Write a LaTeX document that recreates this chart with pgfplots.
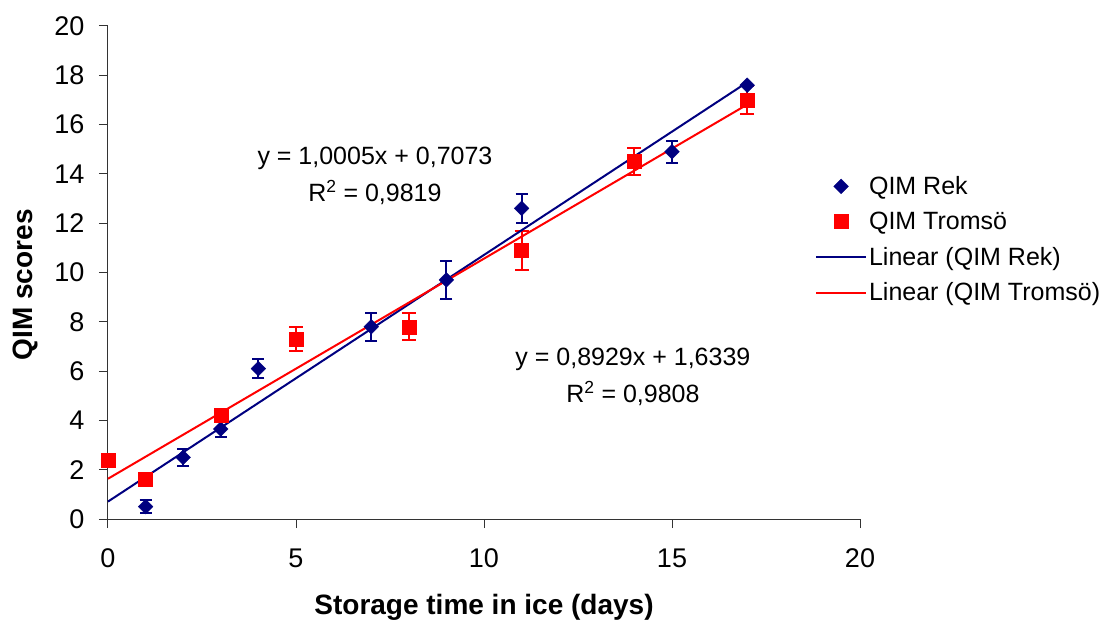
\documentclass[border=0pt]{standalone}
\usepackage{fontspec}
\setmainfont{Liberation Sans}
\usepackage{pgfplots}
\usepackage{pgfplotstable}
\pgfplotsset{compat=1.18}

\definecolor{reknavy}{RGB}{0,0,128}
\definecolor{tromred}{RGB}{255,0,0}

% legend images: a single centred marker, or a 50pt line
\pgfplotsset{
  markleg/.style={legend image code/.code={\draw[##1, mark repeat=2, mark phase=2]
    plot coordinates {(0pt,0pt) (25pt,0pt) (50pt,0pt)};}},
  lineleg/.style={legend image code/.code={\draw[##1] (0pt,0pt) -- (50pt,0pt);}},
}

% day, mean QIM score, error
\pgfplotstableread{
x y e
1 0.5 0.27
2 2.5 0.34
3 3.65 0.33
4 6.1 0.40
7 7.8 0.56
9 9.7 0.77
11 12.6 0.58
15 14.9 0.45
17 17.6 0.0
}\rekdata

\pgfplotstableread{
x y e
0 2.4 0.0
1 1.6 0.15
3 4.2 0.2
5 7.3 0.47
8 7.8 0.54
11 10.9 0.80
14 14.5 0.55
17 17.0 0.55
}\tromsodata

% linear trend lines, end points from the fitted equations
\pgfplotstableread{
x y
0 0.7073
17 17.7158
}\rekfit

\pgfplotstableread{
x y
0 1.6339
17 16.8132
}\tromsofit

\newcommand{\tickfont}{\fontsize{27}{31}\selectfont}
\newcommand{\chartfont}{\fontsize{25}{29}\selectfont}
\newcommand{\labelfont}{\fontsize{28}{32}\selectfont\bfseries}

\begin{document}
\begin{tikzpicture}
\begin{axis}[
  scale only axis,
  width=752pt, height=493pt,
  xmin=0, xmax=20, ymin=0, ymax=20,
  xtick={0,5,...,20}, ytick={0,2,...,20},
  axis x line*=bottom, axis y line*=left,
  axis line style={black!80, line width=1pt},
  tick align=outside,
  major tick length=9pt,
  tick style={black!80, line width=1pt},
  /pgf/number format/assume math mode=true,
  ticklabel style={font=\tickfont},
  xticklabel style={yshift=-17pt},
  yticklabel style={xshift=-11pt},
  xlabel={Storage time in ice (days)},
  ylabel={QIM scores},
  label style={font=\labelfont},
  xlabel style={at={(axis description cs:0.5,0)}, anchor=center, yshift=-88pt},
  ylabel style={at={(axis description cs:-0.11,0.475)}, anchor=center},
  clip=false,
  legend cell align=left,
  legend style={draw=none, fill=none, font=\chartfont,
    at={(axis description cs:0.94,0.567)}, anchor=west,
    row sep=12pt, inner sep=0pt},
]

\addplot[only marks, mark=square*, mark options={rotate=45}, mark size=5.2pt,
  color=reknavy, markleg,
  error bars/.cd, y dir=both, y explicit,
  error mark options={rotate=90, mark size=6pt, line width=2pt, reknavy},
  error bar style={line width=2pt, reknavy}]
  table[x=x, y=y, y error=e] {\rekdata};
\addlegendentry{QIM Rek}

\addplot[only marks, mark=square*, mark size=7pt, color=tromred, markleg,
  error bars/.cd, y dir=both, y explicit,
  error mark options={rotate=90, mark size=7pt, line width=2pt, tromred},
  error bar style={line width=2pt, tromred}]
  table[x=x, y=y, y error=e] {\tromsodata};
\addlegendentry{QIM Troms\"o}

\addplot[reknavy, line width=2pt, no marks, lineleg]
  table[x=x, y=y] {\rekfit};
\addlegendentry{Linear (QIM Rek)}

\addplot[tromred, line width=2pt, no marks, lineleg]
  table[x=x, y=y] {\tromsofit};
\addlegendentry{Linear (QIM Troms\"o)}

\node[font=\chartfont] at (axis cs:7.1,14.65)
  {y = 1,0005x + 0,7073};
\node[font=\chartfont] at (axis cs:7.1,13.25)
  {R\textsuperscript{2} = 0,9819};
\node[font=\chartfont] at (axis cs:13.96,6.49)
  {y = 0,8929x + 1,6339};
\node[font=\chartfont] at (axis cs:13.96,5.1)
  {R\textsuperscript{2} = 0,9808};
\end{axis}
\pgfresetboundingbox
\useasboundingbox (-108pt,-102pt) rectangle (999pt,519pt);
\end{tikzpicture}
\end{document}
